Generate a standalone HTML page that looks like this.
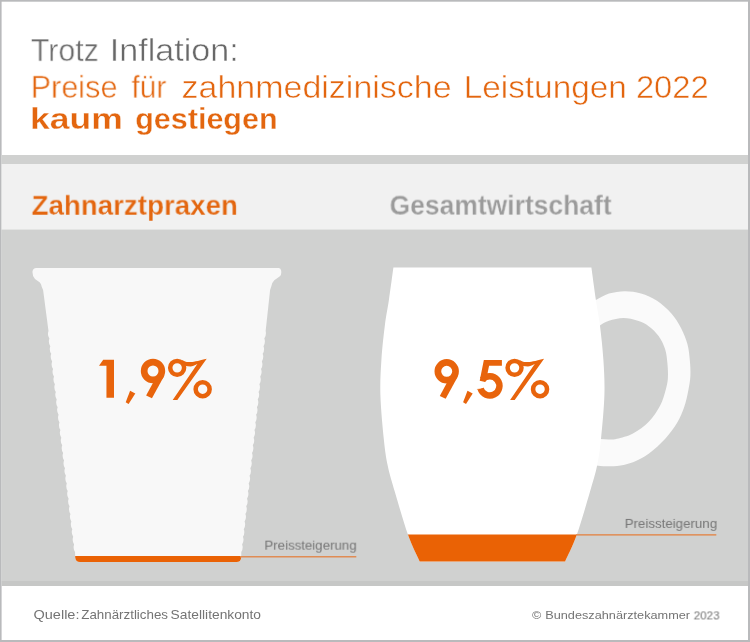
<!DOCTYPE html>
<html><head><meta charset="utf-8"><title>Preise für zahnmedizinische Leistungen 2022</title>
<style>
html,body{margin:0;padding:0;}
body{width:750px;height:642px;position:relative;overflow:hidden;background:#b9babc;font-family:"Liberation Sans",sans-serif;}
.b{position:absolute;}
.t{will-change:transform;position:absolute;white-space:nowrap;line-height:40px;height:40px;transform-origin:0 0;font-family:"Liberation Sans",sans-serif;}
</style></head><body>
<svg width="750" height="642" viewBox="0 0 750 642" style="position:absolute;left:0;top:0">
<rect x="1.6" y="1.7" width="746.4" height="638.3" fill="#fff"/>
<rect x="1.6" y="155" width="746.4" height="426" fill="#d0d1d0"/>
<rect x="1.6" y="164" width="746.4" height="65.6" fill="#f1f1f1"/>
<rect x="1.6" y="581" width="746.4" height="5" fill="#c6c7c6"/>
<defs><clipPath id="cupclip"><path d="M36.2,268 L278.8,268 Q280.8,268.2 281.1,270.5 Q281.8,274.5 279.9,276.2 L274.3,280.2 Q272.2,282.2 271.4,286 L270.1,290 L265.65,331.00Q266.64,334.81 264.33,338.62Q265.82,342.43 263.50,346.24Q264.99,350.05 262.68,353.86Q264.17,357.67 261.86,361.48Q263.35,365.29 261.04,369.10Q262.53,372.91 260.21,376.72Q261.70,380.53 259.39,384.34Q260.88,388.16 258.57,391.97Q260.06,395.78 257.75,399.59Q259.24,403.40 256.92,407.21Q258.41,411.02 256.10,414.83Q257.59,418.64 255.28,422.45Q256.77,426.26 254.46,430.07Q255.94,433.88 253.63,437.69Q255.12,441.50 252.81,445.31Q254.30,449.12 251.99,452.93Q253.48,456.74 251.17,460.55Q252.65,464.36 250.34,468.17Q251.83,471.98 249.52,475.79Q251.01,479.60 248.70,483.41Q250.19,487.22 247.87,491.03Q249.36,494.84 247.05,498.66Q248.54,502.47 246.23,506.28Q247.72,510.09 245.41,513.90Q246.90,517.71 244.58,521.52Q246.07,525.33 243.76,529.14Q245.25,532.95 242.94,536.76Q244.43,540.57 242.12,544.38Q243.61,548.19 241.29,552.00L241.2,557.5 Q240.8,562 236.5,562 L80,562 Q75.7,562 75.2,557.5 L75.04,552.00Q72.68,548.19 74.12,544.38Q71.77,540.57 73.21,536.76Q70.85,532.95 72.29,529.14Q69.93,525.33 71.38,521.52Q69.02,517.71 70.46,513.90Q68.10,510.09 69.55,506.28Q67.19,502.47 68.63,498.66Q66.27,494.84 67.71,491.03Q65.36,487.22 66.80,483.41Q64.44,479.60 65.88,475.79Q63.53,471.98 64.97,468.17Q62.61,464.36 64.05,460.55Q61.69,456.74 63.14,452.93Q60.78,449.12 62.22,445.31Q59.86,441.50 61.31,437.69Q58.95,433.88 60.39,430.07Q58.03,426.26 59.47,422.45Q57.12,418.64 58.56,414.83Q56.20,411.02 57.64,407.21Q55.28,403.40 56.73,399.59Q54.37,395.78 55.81,391.97Q53.45,388.16 54.90,384.34Q52.54,380.53 53.98,376.72Q51.62,372.91 53.06,369.10Q50.71,365.29 52.15,361.48Q49.79,357.67 51.23,353.86Q48.88,350.05 50.32,346.24Q47.96,342.43 49.40,338.62Q47.04,334.81 48.49,331.00L43.1,290 L41.8,287 Q41.3,284 39.9,282.4 L35,279 Q32.3,276.5 32.5,271.5 Q33,268.3 36.2,268 Z"/></clipPath><clipPath id="mugclip"><path d="M393.40,267.60C392.65,273.00 390.32,290.43 388.90,300.00C387.48,309.57 386.15,315.00 384.90,325.00C383.65,335.00 382.15,348.33 381.40,360.00C380.65,371.67 380.00,381.83 380.40,395.00C380.80,408.17 382.57,427.17 383.80,439.00C385.03,450.83 385.95,457.17 387.80,466.00C389.65,474.83 391.55,480.58 394.90,492.00C398.25,503.42 403.77,522.92 407.90,534.50C412.03,546.08 417.73,557.00 419.70,561.50L565.10,561.50C567.07,557.00 572.77,546.08 576.90,534.50C581.03,522.92 586.55,503.42 589.90,492.00C593.25,480.58 595.15,474.83 597.00,466.00C598.85,457.17 599.77,450.83 601.00,439.00C602.23,427.17 604.00,408.17 604.40,395.00C604.80,381.83 604.15,371.67 603.40,360.00C602.65,348.33 601.15,335.00 599.90,325.00C598.65,315.00 597.32,309.57 595.90,300.00C594.48,290.43 592.15,273.00 591.40,267.60Z"/></clipPath></defs>
<path d="M36.2,268 L278.8,268 Q280.8,268.2 281.1,270.5 Q281.8,274.5 279.9,276.2 L274.3,280.2 Q272.2,282.2 271.4,286 L270.1,290 L265.65,331.00Q266.64,334.81 264.33,338.62Q265.82,342.43 263.50,346.24Q264.99,350.05 262.68,353.86Q264.17,357.67 261.86,361.48Q263.35,365.29 261.04,369.10Q262.53,372.91 260.21,376.72Q261.70,380.53 259.39,384.34Q260.88,388.16 258.57,391.97Q260.06,395.78 257.75,399.59Q259.24,403.40 256.92,407.21Q258.41,411.02 256.10,414.83Q257.59,418.64 255.28,422.45Q256.77,426.26 254.46,430.07Q255.94,433.88 253.63,437.69Q255.12,441.50 252.81,445.31Q254.30,449.12 251.99,452.93Q253.48,456.74 251.17,460.55Q252.65,464.36 250.34,468.17Q251.83,471.98 249.52,475.79Q251.01,479.60 248.70,483.41Q250.19,487.22 247.87,491.03Q249.36,494.84 247.05,498.66Q248.54,502.47 246.23,506.28Q247.72,510.09 245.41,513.90Q246.90,517.71 244.58,521.52Q246.07,525.33 243.76,529.14Q245.25,532.95 242.94,536.76Q244.43,540.57 242.12,544.38Q243.61,548.19 241.29,552.00L241.2,557.5 Q240.8,562 236.5,562 L80,562 Q75.7,562 75.2,557.5 L75.04,552.00Q72.68,548.19 74.12,544.38Q71.77,540.57 73.21,536.76Q70.85,532.95 72.29,529.14Q69.93,525.33 71.38,521.52Q69.02,517.71 70.46,513.90Q68.10,510.09 69.55,506.28Q67.19,502.47 68.63,498.66Q66.27,494.84 67.71,491.03Q65.36,487.22 66.80,483.41Q64.44,479.60 65.88,475.79Q63.53,471.98 64.97,468.17Q62.61,464.36 64.05,460.55Q61.69,456.74 63.14,452.93Q60.78,449.12 62.22,445.31Q59.86,441.50 61.31,437.69Q58.95,433.88 60.39,430.07Q58.03,426.26 59.47,422.45Q57.12,418.64 58.56,414.83Q56.20,411.02 57.64,407.21Q55.28,403.40 56.73,399.59Q54.37,395.78 55.81,391.97Q53.45,388.16 54.90,384.34Q52.54,380.53 53.98,376.72Q51.62,372.91 53.06,369.10Q50.71,365.29 52.15,361.48Q49.79,357.67 51.23,353.86Q48.88,350.05 50.32,346.24Q47.96,342.43 49.40,338.62Q47.04,334.81 48.49,331.00L43.1,290 L41.8,287 Q41.3,284 39.9,282.4 L35,279 Q32.3,276.5 32.5,271.5 Q33,268.3 36.2,268 Z" fill="#f8f8f8"/>
<rect x="60" y="556" width="200" height="10" fill="#ea6205" clip-path="url(#cupclip)"/>
<rect x="240" y="556.0" width="116.3" height="1.5" fill="#e08c54"/>
<path d="M590,302C590.98,301.67 592.73,301.40 595.90,300.00C599.07,298.60 604.15,295.07 609.00,293.60C613.85,292.13 619.67,291.20 625.00,291.20C630.33,291.20 635.67,292.00 641.00,293.60C646.33,295.20 651.93,297.47 657.00,300.80C662.07,304.13 667.40,309.07 671.40,313.60C675.40,318.13 678.33,322.93 681.00,328.00C683.67,333.07 685.93,338.67 687.40,344.00C688.87,349.33 689.30,354.67 689.80,360.00C690.30,365.33 690.67,370.83 690.40,376.00C690.13,381.17 689.23,385.83 688.20,391.00C687.17,396.17 686.07,401.67 684.20,407.00C682.33,412.33 680.20,417.67 677.00,423.00C673.80,428.33 669.67,433.93 665.00,439.00C660.33,444.07 654.33,449.53 649.00,453.40C643.67,457.27 638.33,460.12 633.00,462.20C627.67,464.28 621.53,465.23 617.00,465.90C612.47,466.57 609.27,466.28 605.80,466.20C602.33,466.12 598.83,465.68 596.20,465.40C593.57,465.12 591.03,464.65 590.00,464.50L590,438C591.70,438.17 597.03,438.75 600.20,439.00C603.37,439.25 606.20,439.55 609.00,439.50C611.80,439.45 613.00,439.72 617.00,438.70C621.00,437.68 627.67,436.28 633.00,433.40C638.33,430.52 644.47,426.07 649.00,421.40C653.53,416.73 657.40,410.73 660.20,405.40C663.00,400.07 664.52,393.97 665.80,389.40C667.08,384.83 667.63,382.37 667.90,378.00C668.17,373.63 667.88,368.07 667.40,363.20C666.92,358.33 666.47,353.33 665.00,348.80C663.53,344.27 661.27,339.73 658.60,336.00C655.93,332.27 652.47,328.93 649.00,326.40C645.53,323.87 642.07,322.18 637.80,320.80C633.53,319.42 628.20,318.10 623.40,318.10C618.60,318.10 612.92,319.55 609.00,320.80C605.08,322.05 603.07,323.57 599.90,325.60C596.73,327.63 591.65,331.77 590.00,333.00Z" fill="#fafafa"/>
<path d="M393.40,267.60C392.65,273.00 390.32,290.43 388.90,300.00C387.48,309.57 386.15,315.00 384.90,325.00C383.65,335.00 382.15,348.33 381.40,360.00C380.65,371.67 380.00,381.83 380.40,395.00C380.80,408.17 382.57,427.17 383.80,439.00C385.03,450.83 385.95,457.17 387.80,466.00C389.65,474.83 391.55,480.58 394.90,492.00C398.25,503.42 403.77,522.92 407.90,534.50C412.03,546.08 417.73,557.00 419.70,561.50L565.10,561.50C567.07,557.00 572.77,546.08 576.90,534.50C581.03,522.92 586.55,503.42 589.90,492.00C593.25,480.58 595.15,474.83 597.00,466.00C598.85,457.17 599.77,450.83 601.00,439.00C602.23,427.17 604.00,408.17 604.40,395.00C604.80,381.83 604.15,371.67 603.40,360.00C602.65,348.33 601.15,335.00 599.90,325.00C598.65,315.00 597.32,309.57 595.90,300.00C594.48,290.43 592.15,273.00 591.40,267.60Z" fill="#ffffff"/>
<rect x="380" y="534.5" width="230" height="40" fill="#ea6205" clip-path="url(#mugclip)"/>
<rect x="576" y="534.1" width="140.3" height="1.5" fill="#e08c54"/>
<g fill="#e8640c"><path transform="translate(0,0)" d="M99,365.8 L103.2,359.7 L114,359.7 L114,397.8 L106.45,397.8 L106.45,365.8 Z"/><path transform="translate(0,0)" d="M130.1,390.8 L135.3,393.4 L128.6,403.9 L125.7,402.2 Z"/><g transform="translate(0,0)"><circle cx="153" cy="371" r="8.85" fill="none" stroke="#e8640c" stroke-width="6.7"/><path d="M163.9,375.5 L163.6,377.1 L151.95,398.36 L146.1,395.6 L152.94,383 L155.5,378.3 Z"/></g><g transform="translate(0,0)"><circle cx="177.15" cy="367.85" r="6.95" fill="none" stroke="#e8640c" stroke-width="4.5"/><circle cx="202.65" cy="389.2" r="6.98" fill="none" stroke="#e8640c" stroke-width="4.55"/><path d="M181.7,359.7 C184.5,361.3 186,362 188.3,362 C192,362.2 196,361.5 206.7,358.7 L177.3,399.9 L172.7,399.9 L197.3,364 C194.5,365.8 192.5,366.3 190.5,366.4 C188.5,366.4 187,366.3 185.5,366 Z"/></g><g transform="translate(293.7,0.3)"><circle cx="153" cy="371" r="8.85" fill="none" stroke="#e8640c" stroke-width="6.7"/><path d="M163.9,375.5 L163.6,377.1 L151.95,398.36 L146.1,395.6 L152.94,383 L155.5,378.3 Z"/></g><path transform="translate(337.4,0)" d="M130.1,390.8 L135.3,393.4 L128.6,403.9 L125.7,402.2 Z"/><g transform="translate(0,0)"><path d="M483.85,360.07 L501.9,360.07 L501.9,365.7 L489.07,365.7 L486.2,380 L485.2,382 L479.7,380.85 Z"/><path d="M482.46,379.68 A9.62,9.62 0 1 1 480.58,388.65" fill="none" stroke="#e8640c" stroke-width="6.45"/><path d="M476.6,389.1 L483.6,388.5 L483.7,387.7 L477.5,389.6 Z"/></g><g transform="translate(337.4,0)"><circle cx="177.15" cy="367.85" r="6.95" fill="none" stroke="#e8640c" stroke-width="4.5"/><circle cx="202.65" cy="389.2" r="6.98" fill="none" stroke="#e8640c" stroke-width="4.55"/><path d="M181.7,359.7 C184.5,361.3 186,362 188.3,362 C192,362.2 196,361.5 206.7,358.7 L177.3,399.9 L172.7,399.9 L197.3,364 C194.5,365.8 192.5,366.3 190.5,366.4 C188.5,366.4 187,366.3 185.5,366 Z"/></g></g>
</svg>
<div class="t" style="left:30px;top:30px;font-size:31.5px;font-weight:400;color:#686868;-webkit-text-stroke:0.5px #fff;transform:translate(0.84px,0.11px) scaleX(0.9649)">Trotz</div>
<div class="t" style="left:109px;top:30px;font-size:31.5px;font-weight:400;color:#686868;-webkit-text-stroke:0.5px #fff;transform:translate(0.72px,0.11px) scaleX(1.0833)">Inflation:</div>
<div class="t" style="left:30px;top:67px;font-size:30.9px;font-weight:400;color:#e3660f;-webkit-text-stroke:0.5px #fff;transform:translate(0.73px,0.81px) scaleX(0.9892)">Preise</div>
<div class="t" style="left:131px;top:67px;font-size:30.9px;font-weight:400;color:#e3660f;-webkit-text-stroke:0.5px #fff;transform:translate(0.43px,0.81px) scaleX(0.9700)">für</div>
<div class="t" style="left:181px;top:67px;font-size:30.9px;font-weight:400;color:#e3660f;-webkit-text-stroke:0.5px #fff;transform:translate(0.55px,0.81px) scaleX(1.0997)">zahnmedizinische</div>
<div class="t" style="left:463px;top:67px;font-size:30.9px;font-weight:400;color:#e3660f;-webkit-text-stroke:0.5px #fff;transform:translate(0.68px,0.81px) scaleX(1.0795)">Leistungen</div>
<div class="t" style="left:635px;top:67px;font-size:30.9px;font-weight:400;color:#e3660f;-webkit-text-stroke:0.5px #fff;transform:translate(0.88px,0.81px) scaleX(1.0597)">2022</div>
<div class="t" style="left:30px;top:99px;font-size:29.0px;font-weight:700;color:#e3660f;-webkit-text-stroke:0.3px #fff;transform:translate(0.03px,0.01px) scaleX(1.2250)">kaum</div>
<div class="t" style="left:135px;top:99px;font-size:29.0px;font-weight:700;color:#e3660f;-webkit-text-stroke:0.3px #fff;transform:translate(0.21px,0.01px) scaleX(1.0515)">gestiegen</div>
<div class="t" style="left:31px;top:184px;font-size:28.3px;font-weight:700;color:#e3660f;-webkit-text-stroke:0.25px #f1f1f1;transform:translate(0.62px,0.70px) scaleX(0.9785)">Zahnarztpraxen</div>
<div class="t" style="left:389px;top:184px;font-size:28.3px;font-weight:700;color:#9b9b9b;-webkit-text-stroke:0.25px #f1f1f1;transform:translate(0.54px,0.60px) scaleX(0.9356)">Gesamtwirtschaft</div>
<div class="t" style="left:95px;top:358px;font-size:56.3px;font-weight:700;color:transparent;transform:translate(0.56px,0.70px) scaleX(0.9121)">1,9%</div>
<div class="t" style="left:432px;top:359px;font-size:56.3px;font-weight:700;color:transparent;transform:translate(0.06px,0.00px) scaleX(0.9224)">9,5%</div>
<div class="t" style="left:264px;top:525px;font-size:13.6px;font-weight:400;color:#777777;transform:translate(0.40px,0.63px) scaleX(0.9762)">Preissteigerung</div>
<div class="t" style="left:624px;top:503px;font-size:13.6px;font-weight:400;color:#777777;transform:translate(0.70px,0.93px) scaleX(0.9783)">Preissteigerung</div>
<div class="t" style="left:33px;top:595px;font-size:13.2px;font-weight:400;color:#747474;transform:translate(0.47px,0.49px) scaleX(1.1009)">Quelle:</div>
<div class="t" style="left:81px;top:595px;font-size:13.2px;font-weight:400;color:#747474;transform:translate(0.26px,0.49px) scaleX(1.0113)">Zahnärztliches</div>
<div class="t" style="left:170px;top:595px;font-size:13.2px;font-weight:400;color:#747474;transform:translate(0.60px,0.49px) scaleX(1.0454)">Satellitenkonto</div>
<div class="t" style="left:532px;top:595px;font-size:11.8px;font-weight:400;color:#747474;transform:translate(0.02px,0.40px) scaleX(1.0672)">©</div>
<div class="t" style="left:545px;top:595px;font-size:11.8px;font-weight:400;color:#747474;transform:translate(0.22px,0.40px) scaleX(1.0775)">Bundeszahnärztekammer</div>
<div class="t" style="left:693px;top:595px;font-size:11.8px;font-weight:400;color:#747474;transform:translate(0.69px,0.40px) scaleX(0.9878)">2023</div>
</body></html>
